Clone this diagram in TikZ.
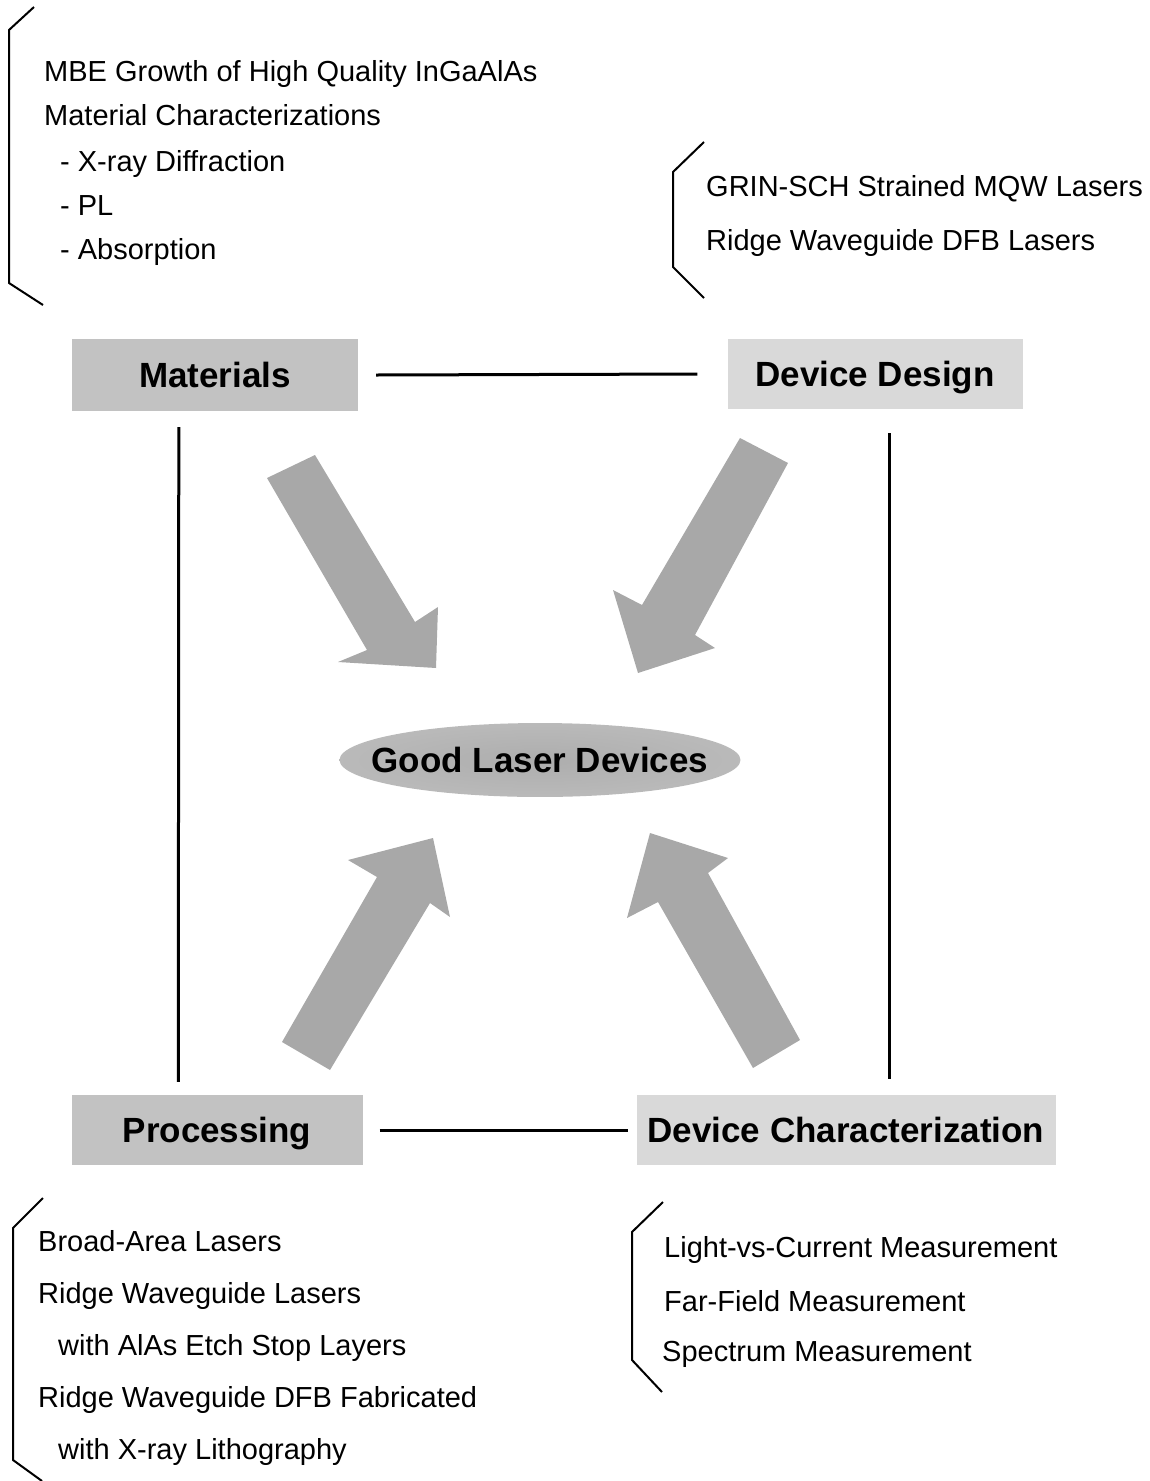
\documentclass[tikz,border=0pt]{standalone}
\usepackage{fontspec}
\setmainfont{Liberation Sans}
\usetikzlibrary{shapes.geometric}
% soft grey haze for the central goal
\pgfdeclareradialshading{haze}{\pgfpoint{0bp}{0bp}}{color(0bp)=(black!32); color(26bp)=(black!27); color(50bp)=(black!4)}

\begin{document}
\begin{tikzpicture}[x=1pt,y=-1pt,
  note/.style={anchor=base west, inner sep=0pt, font=\fontsize{29}{32}\selectfont},
  head/.style={inner sep=0pt, text height=25.5pt, text depth=0pt, font=\fontsize{35}{40}\selectfont\bfseries},
  tile/.style={head, rectangle, fill=black!24},
  faint tile/.style={head, rectangle, fill=black!15},
  link/.style={line width=3pt},
  brace line/.style={line width=2pt, line join=miter},
  bigarrow/.style={fill=black!34}]
\useasboundingbox (0,0) rectangle (1150,1481);

% four corner topics
\node[tile, minimum width=286pt, minimum height=72pt] (mat) at (215,375) {Materials};
\node[faint tile, minimum width=295pt, minimum height=70pt] (des) at (875,374) {Device Design};
\node[tile, minimum width=291pt, minimum height=70pt] (proc) at (217,1130) {Processing};
\node[faint tile, minimum width=419pt, minimum height=70pt] (char) at (846,1130) {Device Characterization};

% central goal
\node[head, ellipse, shading=haze, inner xsep=-26.5pt, inner ysep=13.4pt] (good) at (540,760) {Good Laser Devices};

% frame connecting the topics
\draw[link] ([xshift=18pt]mat.east) -- ([xshift=-30pt]des.west);
\draw[link] ([xshift=17pt]proc.east) -- ([xshift=-8pt]char.west);
\draw[link] ([xshift=107pt,yshift=-16pt]mat.south west) -- ([xshift=107pt,yshift=13pt]proc.north west);
\draw[link] ([xshift=162pt,yshift=-24pt]des.south west) -- ([xshift=253pt,yshift=16pt]char.north west);

% broad arrows converging on the goal
\fill[bigarrow] (267,478) -- (315,455) -- (415,622) -- (438,607) -- (436,668) -- (338,662) -- (367,650) -- cycle;
\fill[bigarrow] (740,438) -- (788,463) -- (695,635) -- (715,648) -- (638,673) -- (613,590) -- (642,605) -- cycle;
\fill[bigarrow] (282,1042) -- (377,877) -- (348,860) -- (433,838) -- (450,917) -- (430,903) -- (330,1070) -- cycle;
\fill[bigarrow] (800,1040) -- (708,873) -- (728,858) -- (650,833) -- (627,918) -- (658,902) -- (753,1068) -- cycle;

% bracketed lists
\draw[brace line] (34,7) -- (9,30) -- (9,283) -- (43,305);
\node[note] (m1) at (44,81) {MBE Growth of High Quality InGaAlAs};
\node[note] (m2) at (44,125) {Material Characterizations};
\node[note] (m3) at (60,171) {- X-ray Diffraction};
\node[note] (m4) at (60,215) {- PL};
\node[note] (m5) at (60,259) {- Absorption};

\draw[brace line] (704,142) -- (673,172) -- (673,267) -- (704,298);
\node[note] (d1) at (706,196) {GRIN-SCH Strained MQW Lasers};
\node[note] (d2) at (706,250) {Ridge Waveguide DFB Lasers};

\draw[brace line] (43,1198) -- (13,1228) -- (13,1460) -- (42,1481);
\node[note] (p1) at (38,1251) {Broad-Area Lasers};
\node[note] (p2) at (38,1303) {Ridge Waveguide Lasers};
\node[note] (p3) at (58,1355) {with AlAs Etch Stop Layers};
\node[note] (p4) at (38,1407) {Ridge Waveguide DFB Fabricated};
\node[note] (p5) at (58,1459) {with X-ray Lithography};

\draw[brace line] (663,1202) -- (632,1232) -- (632,1360) -- (662,1392);
\node[note] (c1) at (664,1257) {Light-vs-Current Measurement};
\node[note] (c2) at (664,1311) {Far-Field Measurement};
\node[note] (c3) at (662,1361) {Spectrum Measurement};
\end{tikzpicture}
\end{document}
